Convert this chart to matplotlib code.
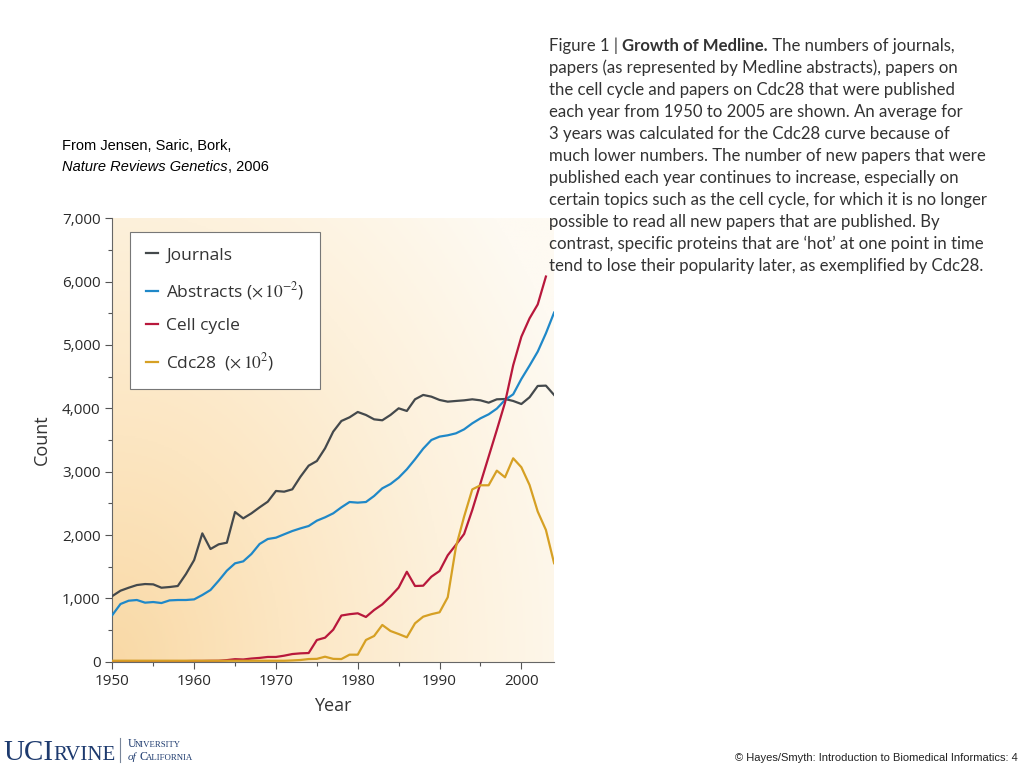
import numpy as np
import matplotlib
matplotlib.use("Agg")
import matplotlib.pyplot as plt
from matplotlib.colors import LinearSegmentedColormap

plt.rcParams['font.family'] = ['Open Sans', 'DejaVu Sans']
plt.rcParams['mathtext.fontset'] = 'stix'

# Données (1950-2004)
years = list(range(1950, 2005))

journals = [1037, 1121, 1168, 1210, 1226, 1221, 1168, 1179, 1195, 1384,
            1605, 2026, 1779, 1853, 1879, 2363, 2263, 2342, 2437, 2526,
            2695, 2684, 2721, 2921, 3095, 3168, 3368, 3632, 3800, 3858,
            3942, 3895, 3826, 3811, 3895, 4000, 3958, 4142, 4211, 4184,
            4132, 4105, 4116, 4126, 4142, 4126, 4089, 4142, 4147, 4116,
            4068, 4174, 4353, 4358, 4211]

abstracts = [737, 911, 963, 974, 932, 942, 926, 968, 974, 974,
             984, 1053, 1132, 1279, 1437, 1553, 1584, 1700, 1858, 1937,
             1958, 2011, 2063, 2105, 2142, 2226, 2279, 2342, 2437, 2521,
             2511, 2521, 2616, 2737, 2805, 2905, 3037, 3195, 3363, 3500,
             3553, 3574, 3605, 3668, 3763, 3842, 3905, 3995, 4132, 4221,
             4463, 4674, 4895, 5184, 5511]

cell_cycle = [10, 10, 10, 10, 10, 10, 10, 10, 10, 10,
              12, 12, 14, 15, 25, 40, 35, 50, 60, 75,
              75, 95, 121, 132, 137, 343, 379, 505, 729, 750,
              764, 706, 816, 905, 1030, 1170, 1420, 1195, 1200, 1342,
              1432, 1680, 1845, 2016, 2395, 2816, 3237, 3658, 4090, 4680,
              5130, 5420, 5640, 6080]
cell_years = years[:len(cell_cycle)]

cdc28 = [15, 15, 15, 15, 15, 15, 15, 15, 15, 15,
         15, 15, 15, 15, 15, 15, 15, 15, 15, 15,
         15, 15, 20, 27, 42, 45, 79, 45, 42, 111,
         111, 343, 406, 580, 485, 437, 385, 606, 711, 750,
         780, 1017, 1810, 2290, 2720, 2785, 2785, 3016, 2911, 3211,
         3070, 2790, 2370, 2080, 1555]

fig = plt.figure(figsize=(10.24, 7.68), dpi=100)
ax = fig.add_axes([0.1097, 0.1384, 0.4314, 0.5774])

# fond dégradé (orange en bas à gauche -> crème en haut à droite)
gx, gy = np.meshgrid(np.linspace(0, 1, 300), np.linspace(0, 1, 300))
dist = np.clip(np.sqrt((gx * 1.0) ** 2 + (gy * 0.75) ** 2) / 1.15, 0, 1)
cmap = LinearSegmentedColormap.from_list("bg", ["#f9d9a6", "#fce6c2", "#fdf1dc", "#fefaf2"])
ax.imshow(dist, cmap=cmap, origin='lower', extent=[1950, 2004, 0, 7000],
          aspect='auto', zorder=0, vmin=0, vmax=1)

lw = 1.6
ax.plot(years, journals, color="#44494c", lw=lw, label="Journals", zorder=3)
ax.plot(years, abstracts, color="#1f88c8", lw=lw, label=r"Abstracts ($\times\,10^{-2}$)", zorder=3)
ax.plot(cell_years, cell_cycle, color="#b8183c", lw=lw, label="Cell cycle", zorder=3)
ax.plot(years, cdc28, color="#d6a024", lw=lw, label=r"Cdc28  ($\times\,10^{2}$)", zorder=3)

ax.set_xlim(1950, 2004)
ax.set_ylim(0, 7000)
ax.set_xticks(range(1950, 2001, 10))
ax.set_xticks(range(1950, 2005, 5), minor=True)
ax.set_yticks(range(0, 7001, 1000))
ax.set_yticks(range(0, 7001, 500), minor=True)
ax.set_yticklabels([f"{v:,}" for v in range(0, 7001, 1000)])
ax.tick_params(axis='both', which='major', labelsize=11, colors="#555555",
               labelcolor="#2a2a2a", length=5, width=0.8)
ax.tick_params(axis='both', which='minor', colors="#555555", length=3, width=0.8)
for s in ['top', 'right']:
    ax.spines[s].set_visible(False)
for s in ['left', 'bottom']:
    ax.spines[s].set_color("#666666")
    ax.spines[s].set_linewidth(0.8)
ax.set_xlabel("Year", fontsize=13, color="#333333", labelpad=6)
ax.set_ylabel("Count", fontsize=13, color="#333333", labelpad=8)

leg = ax.legend(loc='upper left', bbox_to_anchor=(0.04, 0.97), fontsize=12.5,
                handlelength=0.7, handletextpad=0.5, labelspacing=0.95,
                borderpad=0.9, fancybox=False, framealpha=1, edgecolor="#777777",
                borderaxespad=0)
leg.get_frame().set_linewidth(0.8)
for t in leg.get_texts():
    t.set_color("#333333")

# source
src_kw = dict(fontsize=10.5, va='center', ha='left', family=['Liberation Sans', 'DejaVu Sans'])
fig.text(62 / 1024, 1 - 146 / 768, "From Jensen, Saric, Bork,", **src_kw)
t_it = fig.text(62 / 1024, 1 - 167 / 768, "Nature Reviews Genetics", style='italic', **src_kw)

# légende de la figure (texte)
caption = [
    None,
    "papers (as represented by Medline abstracts), papers on",
    "the cell cycle and papers on Cdc28 that were published",
    "each year from 1950 to 2005 are shown. An average for",
    "3 years was calculated for the Cdc28 curve because of",
    "much lower numbers. The number of new papers that were",
    "published each year continues to increase, especially on",
    "certain topics such as the cell cycle, for which it is no longer",
    "possible to read all new papers that are published. By",
    "contrast, specific proteins that are \u2018hot\u2019 at one point in time",
    "tend to lose their popularity later, as exemplified by Cdc28.",
]
cap_kw = dict(fontsize=12.05, color="#333333", va='baseline', ha='left', family=['Lato', 'DejaVu Sans'])
x0 = 549 / 1024
base0 = 51
for i, line in enumerate(caption):
    if line is None:
        continue
    fig.text(x0, 1 - (base0 + 22 * i) / 768, line, **cap_kw)

fig.canvas.draw()
r = fig.canvas.get_renderer()
bb = t_it.get_window_extent(r)
fig.text(bb.x1 / 1024, 1 - 167 / 768, ", 2006", **src_kw)

y1 = 1 - base0 / 768
p1 = fig.text(x0, y1, "Figure 1 | ", **cap_kw)
fig.canvas.draw()
xb = p1.get_window_extent(r).x1 / 1024
p2 = fig.text(xb, y1, "Growth of Medline.", fontweight='bold', **cap_kw)
fig.canvas.draw()
xc = p2.get_window_extent(r).x1 / 1024
fig.text(xc, y1, " The numbers of journals,", **cap_kw)

# pied de page
navy = "#1d3a6e"
serif = ['Liberation Serif', 'DejaVu Serif']
u1 = fig.text(3 / 1024, 1 - 760 / 768, "UCI", fontsize=21, color=navy, va='baseline', family=serif)
fig.canvas.draw()
fig.text(u1.get_window_extent(r).x1 / 1024, 1 - 760 / 768, "RVINE", fontsize=15, color=navy,
         va='baseline', family=serif)
fig.add_artist(plt.Line2D([120 / 1024, 120 / 1024], [1 - 738 / 768, 1 - 762 / 768],
                          color="#7a869a", lw=0.8))
fig.text(128 / 1024, 1 - 747 / 768, "U", fontsize=8.5, color=navy, va='baseline', family=serif)
fig.text(135 / 1024, 1 - 747 / 768, "NIVERSITY", fontsize=6.3, color=navy, va='baseline', family=serif)
fig.text(128 / 1024, 1 - 760 / 768, "of", fontsize=8, color=navy, va='baseline', style='italic', family=serif)
fig.text(139 / 1024, 1 - 760 / 768, "C", fontsize=8.5, color=navy, va='baseline', family=serif)
fig.text(146 / 1024, 1 - 760 / 768, "ALIFORNIA", fontsize=6.3, color=navy, va='baseline', family=serif)

fig.text(1018 / 1024, 1 - 758 / 768, "\u00a9 Hayes/Smyth: Introduction to Biomedical Informatics: 4",
         fontsize=8, color="#222222", va='center', ha='right',
         family=['Liberation Sans Narrow', 'Liberation Sans', 'DejaVu Sans'])

fig.savefig("out.png", dpi=100)
